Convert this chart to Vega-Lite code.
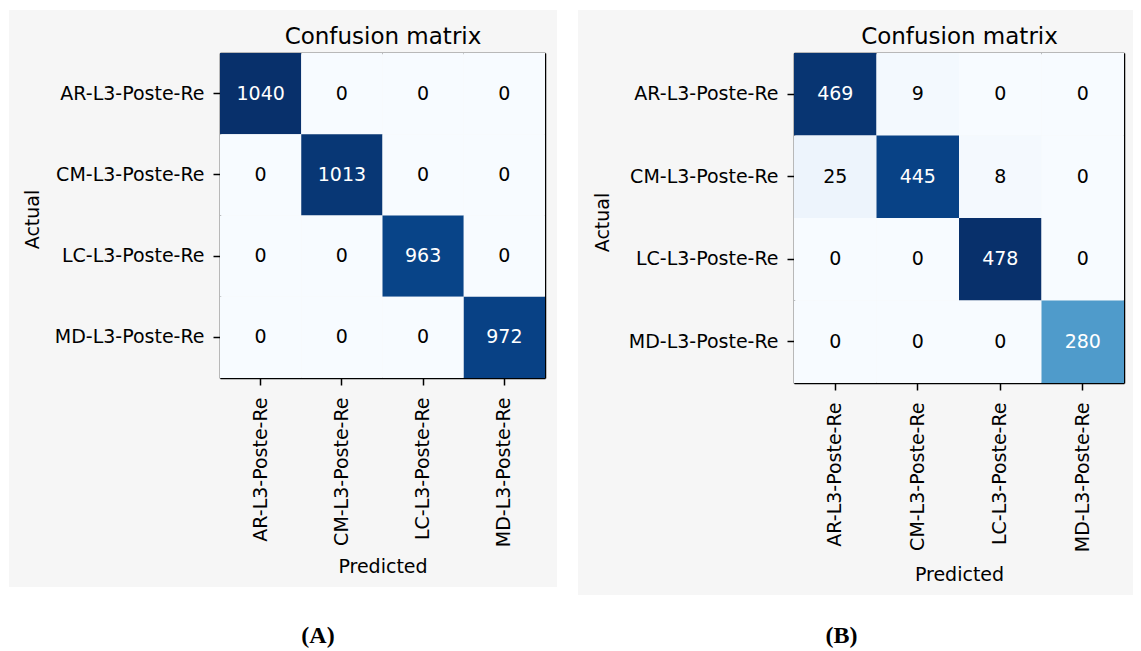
{
  "$schema": "https://vega.github.io/schema/vega-lite/v6.json",
  "background": "white",
  "padding": {"left": 9, "top": 10, "right": 0, "bottom": 0},
  "spacing": 21,
  "config": {
    "font": "DejaVu Sans",
    "view": {"stroke": null},
    "axis": {
      "labelFont": "DejaVu Sans",
      "titleFont": "DejaVu Sans",
      "labelColor": "black",
      "titleColor": "black",
      "domainColor": "black",
      "tickColor": "black",
      "domainWidth": 1.5,
      "tickWidth": 1.5,
      "labelFontSize": 19,
      "titleFontSize": 19,
      "titleFontWeight": "normal",
      "grid": false,
      "zindex": 1
    }
  },
  "resolve": {"scale": {"color": "independent", "x": "independent", "y": "independent"}},
  "hconcat": [
    {
      "width": 548,
      "height": 577,
      "view": {"fill": "#f6f6f6", "stroke": null},
      "title": {"text": "(A)", "orient": "bottom", "anchor": "middle", "frame": "group", "dx": 35, "offset": 56, "baseline": "alphabetic", "font": "Liberation Serif", "fontWeight": "bold", "fontSize": 24, "color": "black"},
      "data": {"values": [
        {"actual": "AR-L3-Poste-Re", "predicted": "AR-L3-Poste-Re", "count": 1040},
        {"actual": "AR-L3-Poste-Re", "predicted": "CM-L3-Poste-Re", "count": 0},
        {"actual": "AR-L3-Poste-Re", "predicted": "LC-L3-Poste-Re", "count": 0},
        {"actual": "AR-L3-Poste-Re", "predicted": "MD-L3-Poste-Re", "count": 0},
        {"actual": "CM-L3-Poste-Re", "predicted": "AR-L3-Poste-Re", "count": 0},
        {"actual": "CM-L3-Poste-Re", "predicted": "CM-L3-Poste-Re", "count": 1013},
        {"actual": "CM-L3-Poste-Re", "predicted": "LC-L3-Poste-Re", "count": 0},
        {"actual": "CM-L3-Poste-Re", "predicted": "MD-L3-Poste-Re", "count": 0},
        {"actual": "LC-L3-Poste-Re", "predicted": "AR-L3-Poste-Re", "count": 0},
        {"actual": "LC-L3-Poste-Re", "predicted": "CM-L3-Poste-Re", "count": 0},
        {"actual": "LC-L3-Poste-Re", "predicted": "LC-L3-Poste-Re", "count": 963},
        {"actual": "LC-L3-Poste-Re", "predicted": "MD-L3-Poste-Re", "count": 0},
        {"actual": "MD-L3-Poste-Re", "predicted": "AR-L3-Poste-Re", "count": 0},
        {"actual": "MD-L3-Poste-Re", "predicted": "CM-L3-Poste-Re", "count": 0},
        {"actual": "MD-L3-Poste-Re", "predicted": "LC-L3-Poste-Re", "count": 0},
        {"actual": "MD-L3-Poste-Re", "predicted": "MD-L3-Poste-Re", "count": 972}
      ]},
      "layer": [
        {
          "mark": {"type": "rect"},
          "encoding": {
            "x": {"field": "predicted", "type": "nominal", "sort": null,
              "scale": {"type": "band", "range": [211, 536], "paddingInner": 0, "paddingOuter": 0},
              "axis": {"orient": "bottom", "offset": -209, "labelAngle": 270, "tickSize": 7, "labelPadding": 12, "title": "Predicted", "titleY": 194, "titleBaseline": "alphabetic"}},
            "y": {"field": "actual", "type": "nominal", "sort": null,
              "scale": {"type": "band", "range": [43, 368], "paddingInner": 0, "paddingOuter": 0},
              "axis": {"orient": "left", "offset": -211, "tickSize": 7, "labelPadding": 9, "title": "Actual", "titleX": -182, "titleY": 209, "titleBaseline": "alphabetic"}},
            "color": {"field": "count", "type": "quantitative", "legend": null,
              "scale": {"type": "linear", "domain": [0, 130, 260, 390, 520, 650, 780, 910, 1040],
                "range": ["#f7fbff", "#deebf7", "#c6dbef", "#9ecae1", "#6baed6", "#4292c6", "#2171b5", "#08519c", "#08306b"], "interpolate": "rgb"}}
          }
        },
        {
          "mark": {"type": "text", "fontSize": 19, "font": "DejaVu Sans"},
          "encoding": {
            "x": {"field": "predicted", "type": "nominal", "sort": null,
              "scale": {"type": "band", "range": [211, 536], "paddingInner": 0, "paddingOuter": 0},
              "axis": {"orient": "top", "offset": -43, "labels": false, "ticks": false, "title": "Confusion matrix", "titleFontSize": 23, "titleY": -10, "titleBaseline": "alphabetic"}},
            "y": {"field": "actual", "type": "nominal", "sort": null,
              "scale": {"type": "band", "range": [43, 368], "paddingInner": 0, "paddingOuter": 0},
              "axis": {"orient": "right", "offset": -12, "labels": false, "ticks": false, "title": null}},
            "text": {"field": "count", "type": "quantitative"},
            "color": {"condition": {"test": "datum.count > 520", "value": "white"}, "value": "black"}
          }
        }
      ],
      "resolve": {"axis": {"x": "independent", "y": "independent"}}
    },
    {
      "width": 555,
      "height": 585,
      "view": {"fill": "#f6f6f6", "stroke": null},
      "title": {"text": "(B)", "orient": "bottom", "anchor": "middle", "frame": "group", "dx": -14, "offset": 48, "baseline": "alphabetic", "font": "Liberation Serif", "fontWeight": "bold", "fontSize": 24, "color": "black"},
      "data": {"values": [
        {"actual": "AR-L3-Poste-Re", "predicted": "AR-L3-Poste-Re", "count": 469},
        {"actual": "AR-L3-Poste-Re", "predicted": "CM-L3-Poste-Re", "count": 9},
        {"actual": "AR-L3-Poste-Re", "predicted": "LC-L3-Poste-Re", "count": 0},
        {"actual": "AR-L3-Poste-Re", "predicted": "MD-L3-Poste-Re", "count": 0},
        {"actual": "CM-L3-Poste-Re", "predicted": "AR-L3-Poste-Re", "count": 25},
        {"actual": "CM-L3-Poste-Re", "predicted": "CM-L3-Poste-Re", "count": 445},
        {"actual": "CM-L3-Poste-Re", "predicted": "LC-L3-Poste-Re", "count": 8},
        {"actual": "CM-L3-Poste-Re", "predicted": "MD-L3-Poste-Re", "count": 0},
        {"actual": "LC-L3-Poste-Re", "predicted": "AR-L3-Poste-Re", "count": 0},
        {"actual": "LC-L3-Poste-Re", "predicted": "CM-L3-Poste-Re", "count": 0},
        {"actual": "LC-L3-Poste-Re", "predicted": "LC-L3-Poste-Re", "count": 478},
        {"actual": "LC-L3-Poste-Re", "predicted": "MD-L3-Poste-Re", "count": 0},
        {"actual": "MD-L3-Poste-Re", "predicted": "AR-L3-Poste-Re", "count": 0},
        {"actual": "MD-L3-Poste-Re", "predicted": "CM-L3-Poste-Re", "count": 0},
        {"actual": "MD-L3-Poste-Re", "predicted": "LC-L3-Poste-Re", "count": 0},
        {"actual": "MD-L3-Poste-Re", "predicted": "MD-L3-Poste-Re", "count": 280}
      ]},
      "layer": [
        {
          "mark": {"type": "rect"},
          "encoding": {
            "x": {"field": "predicted", "type": "nominal", "sort": null,
              "scale": {"type": "band", "range": [216, 546], "paddingInner": 0, "paddingOuter": 0},
              "axis": {"orient": "bottom", "offset": -212, "labelAngle": 270, "tickSize": 7, "labelPadding": 12, "title": "Predicted", "titleY": 197, "titleBaseline": "alphabetic"}},
            "y": {"field": "actual", "type": "nominal", "sort": null,
              "scale": {"type": "band", "range": [43, 373], "paddingInner": 0, "paddingOuter": 0},
              "axis": {"orient": "left", "offset": -216, "tickSize": 7, "labelPadding": 9, "title": "Actual", "titleX": -186, "titleY": 212, "titleBaseline": "alphabetic"}},
            "color": {"field": "count", "type": "quantitative", "legend": null,
              "scale": {"type": "linear", "domain": [0, 59.75, 119.5, 179.25, 239, 298.75, 358.5, 418.25, 478],
                "range": ["#f7fbff", "#deebf7", "#c6dbef", "#9ecae1", "#6baed6", "#4292c6", "#2171b5", "#08519c", "#08306b"], "interpolate": "rgb"}}
          }
        },
        {
          "mark": {"type": "text", "fontSize": 19, "font": "DejaVu Sans"},
          "encoding": {
            "x": {"field": "predicted", "type": "nominal", "sort": null,
              "scale": {"type": "band", "range": [216, 546], "paddingInner": 0, "paddingOuter": 0},
              "axis": {"orient": "top", "offset": -43, "labels": false, "ticks": false, "title": "Confusion matrix", "titleFontSize": 23, "titleY": -10, "titleBaseline": "alphabetic"}},
            "y": {"field": "actual", "type": "nominal", "sort": null,
              "scale": {"type": "band", "range": [43, 373], "paddingInner": 0, "paddingOuter": 0},
              "axis": {"orient": "right", "offset": -9, "labels": false, "ticks": false, "title": null}},
            "text": {"field": "count", "type": "quantitative"},
            "color": {"condition": {"test": "datum.count > 239", "value": "white"}, "value": "black"}
          }
        }
      ],
      "resolve": {"axis": {"x": "independent", "y": "independent"}}
    }
  ]
}
